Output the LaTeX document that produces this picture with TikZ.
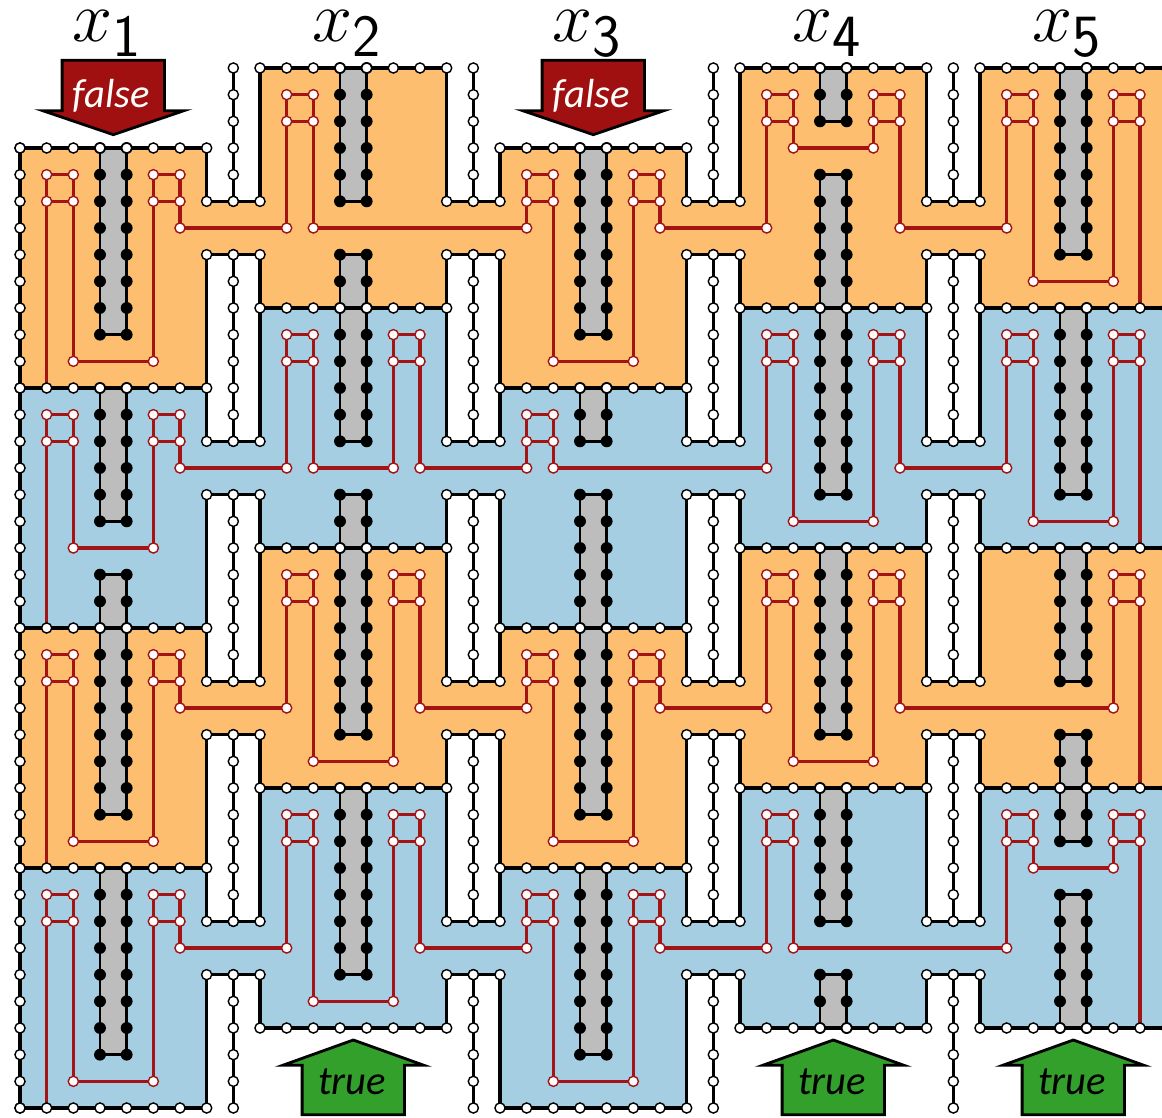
\documentclass[tikz,border=0pt]{standalone}
\usepackage{amsmath,amssymb}
\usepackage[no-math]{fontspec}
\newfontfamily\arrowfont{Carlito}
\definecolor{orangepanel}{HTML}{FDBF6F}
\definecolor{bluepanel}{HTML}{A6CEE3}
\definecolor{greytube}{HTML}{BDBDBD}
\definecolor{redwire}{HTML}{A31515}
\definecolor{redarrow}{HTML}{A01010}
\definecolor{greenarrow}{HTML}{33A02C}
\begin{document}
\begin{tikzpicture}[x=0.6cm,y=-0.6cm,
    edge/.style = {draw, line width=2.1pt},
    thinedge/.style = {draw, line width=1.6pt},
    tube/.style = {draw, fill=greytube, line width=1.8pt},
    wire/.style = {draw=redwire, line width=2pt},
    wdot/.style = {draw, fill=white, circle, inner sep=0pt, minimum size=6.5pt, line width=.9pt},
    rdot/.style = {draw=redwire, fill=white, circle, inner sep=0pt, minimum size=6.5pt, line width=.9pt},
    bdot/.style = {fill=black, circle, inner sep=0pt, minimum size=7.6pt},
    varlabel/.style = {anchor=base, inner sep=0pt, font=\Huge, scale=1.85},
    fixarrow/.style = {draw, line width=1.8pt, miter limit=20},
    fixlabel/.style = {anchor=base, font=\fontsize{26}{26}\selectfont\arrowfont\itshape}]
    \clip (-.75,-2.55) rectangle (42.825,39.375);

    % grid of named points
    \foreach \i in {0,...,44} \foreach \j in {0,...,39} \coordinate (g\i-\j) at (\i,\j);

    % panels
    \foreach \a/\b/\t in {0/7/3, 18/25/3, 9/16/0, 27/34/0, 36/44/0} {
        \pgfmathtruncatemacro{\ta}{\t+9}
        \pgfmathtruncatemacro{\tb}{\t+18}
        \pgfmathtruncatemacro{\tc}{\t+27}
        \pgfmathtruncatemacro{\td}{\t+36}
        \fill[orangepanel] (g\a-\t) rectangle (g\b-\ta);
        \fill[bluepanel] (g\a-\ta) rectangle (g\b-\tb);
        \fill[orangepanel] (g\a-\tb) rectangle (g\b-\tc);
        \fill[bluepanel] (g\a-\tc) rectangle (g\b-\td);
    }
    % links between the panels
    \foreach \a/\b in {6/10, 15/19, 24/28, 33/37} {
        \fill[orangepanel] (g\a-5) rectangle (g\b-7);
        \fill[bluepanel] (g\a-14) rectangle (g\b-16);
        \fill[orangepanel] (g\a-23) rectangle (g\b-25);
        \fill[bluepanel] (g\a-32) rectangle (g\b-34);
    }

    % tubes
    \foreach \s/\u/\a/\b in {3/4/3/10, 3/4/12/17, 3/4/19/28, 3/4/30/37,
        12/13/0/5, 12/13/7/14, 12/13/16/25, 12/13/27/34,
        21/22/3/10, 21/22/12/14, 21/22/16/28, 21/22/30/37,
        30/31/0/2, 30/31/4/16, 30/31/18/25, 30/31/27/32, 30/31/34/36,
        39/40/0/7, 39/40/9/16, 39/40/18/23, 39/40/25/29, 39/40/31/36} {
        \draw[tube] (g\s-\a) rectangle (g\u-\b);
        \foreach \j in {\a,...,\b} {
            \node[bdot] (b\s-\j) at (g\s-\j) {};
            \node[bdot] (b\u-\j) at (g\u-\j) {};
        }
    }

    % red squares
    \foreach \i/\j in {1/4, 5/4, 1/13, 5/13, 1/22, 5/22, 1/31, 5/31,
        10/1, 10/10, 14/10, 10/19, 14/19, 10/28, 14/28,
        19/4, 23/4, 19/13, 19/22, 23/22, 19/31, 23/31,
        28/1, 32/1, 28/10, 32/10, 28/19, 32/19, 28/28,
        37/1, 41/1, 37/10, 41/10, 41/19, 37/28, 41/28} {
        \pgfmathtruncatemacro{\k}{\i+1}
        \pgfmathtruncatemacro{\m}{\j+1}
        \draw[wire] (g\i-\j) rectangle (g\k-\m);
    }
    % red wires that stop on a boundary
    \foreach \i/\a/\b in {1/5/12, 1/14/21, 1/23/30, 1/32/39, 42/2/9, 42/11/18, 42/20/27, 42/29/36}
        \draw[wire] (g\i-\a) -- (g\i-\b);
    % red wires: down, across, up
    \foreach \a/\b/\c/\d/\e in {2/5/11/5/5, 6/5/6/10/2, 11/2/6/19/5, 20/5/11/23/5,
        24/5/6/28/2, 29/2/3/32/2, 33/2/6/37/2, 38/2/8/41/2,
        2/14/18/5/14, 6/14/15/10/11, 11/11/15/14/11, 15/11/15/19/14,
        20/14/15/28/11, 29/11/17/32/11, 33/11/15/37/11, 38/11/17/41/11,
        2/23/29/5/23, 6/23/24/10/20, 11/20/26/14/20, 15/20/24/19/23,
        20/23/29/23/23, 24/23/24/28/20, 29/20/26/32/20, 33/20/24/41/20,
        2/32/38/5/32, 6/32/33/10/29, 11/29/35/14/29, 15/29/33/19/32,
        20/32/38/23/32, 24/32/33/28/29, 29/29/33/37/29, 38/29/30/41/29} {
        \draw[wire] (g\a-\b) -- (g\a-\c) -- (g\d-\c) -- (g\d-\e);
        \node[rdot] (r\a-\c) at (g\a-\c) {};
        \node[rdot] (r\d-\c) at (g\d-\c) {};
    }
    \foreach \i/\j in {1/4, 5/4, 1/13, 5/13, 1/22, 5/22, 1/31, 5/31,
        10/1, 10/10, 14/10, 10/19, 14/19, 10/28, 14/28,
        19/4, 23/4, 19/13, 19/22, 23/22, 19/31, 23/31,
        28/1, 32/1, 28/10, 32/10, 28/19, 32/19, 28/28,
        37/1, 41/1, 37/10, 41/10, 41/19, 37/28, 41/28} {
        \pgfmathtruncatemacro{\k}{\i+1}
        \pgfmathtruncatemacro{\m}{\j+1}
        \node[rdot] (r\i-\j) at (g\i-\j) {};
        \node[rdot] (r\k-\j) at (g\k-\j) {};
        \node[rdot] (r\i-\m) at (g\i-\m) {};
        \node[rdot] (r\k-\m) at (g\k-\m) {};
    }

    % boundaries of the panels, at the gaps
    \foreach \e/\t/\b in {7/3/39, 9/0/36, 16/0/36, 18/3/39, 25/3/39, 27/0/36, 34/0/36, 36/0/36} {
        \draw[edge] (g\e-\t) -- (g\e-5);
        \draw[edge] (g\e-7) -- (g\e-14);
        \draw[edge] (g\e-16) -- (g\e-23);
        \draw[edge] (g\e-25) -- (g\e-32);
        \draw[edge] (g\e-34) -- (g\e-\b);
    }
    % the gaps: short lines across and the white column in the middle
    \foreach \a/\m/\b in {7/8/9, 16/17/18, 25/26/27, 34/35/36} {
        \foreach \t/\u in {0/5, 7/14, 16/23, 25/32, 34/39} {
            \draw[thinedge] (g\m-\t) -- (g\m-\u);
            \foreach \j in {\t,...,\u} \node[wdot] (w\m-\j) at (g\m-\j) {};
        }
        \foreach \j in {5,7,14,16,23,25,32,34} {
            \draw[thinedge] (g\a-\j) -- (g\b-\j);
            \node[wdot] (w\a-\j) at (g\a-\j) {};
            \node[wdot] (w\m-\j) at (g\m-\j) {};
            \node[wdot] (w\b-\j) at (g\b-\j) {};
        }
    }
    % left border
    \draw[edge] (g0-3) -- (g0-39);
    \foreach \j in {3,...,39} \node[wdot] (w0-\j) at (g0-\j) {};
    % levels
    \foreach \a/\b/\t in {0/7/3, 18/25/3, 9/16/0, 27/34/0, 36/44/0} {
        \foreach \k in {0,9,18,27,36} {
            \pgfmathtruncatemacro{\l}{\t+\k}
            \draw[edge] (g\a-\l) -- (g\b-\l);
            \foreach \i in {\a,...,\b} \node[wdot] (w\i-\l) at (g\i-\l) {};
        }
    }

    % arrows above and below
    \foreach \c/\n in {3.5/1,21.5/3} {
        \draw[fixarrow, fill=redarrow] (\c-1.92,-.29) -- (\c+1.92,-.29) -- (\c+1.92,1.6) -- (\c+2.65,1.6)
            -- (\c,2.5) -- (\c-2.65,1.6) -- (\c-1.92,1.6) -- cycle;
        \node[fixlabel, text=white] (f\n) at (\c-.08,1.5) {false};
    }
    \foreach \c/\n in {12.5/2,30.5/4,39.5/5} {
        \draw[fixarrow, fill=greenarrow] (\c-1.92,39.25) -- (\c+1.92,39.25) -- (\c+1.92,37.4) -- (\c+2.65,37.4)
            -- (\c,36.45) -- (\c-2.65,37.4) -- (\c-1.92,37.4) -- cycle;
        \node[fixlabel] (t\n) at (\c-.05,38.5) {true};
    }
    % variable names
    \foreach \s/\n in {3/1,12/2,21/3,30/4,39/5}
        \node[varlabel] (x\n) at (\s+.28,-.98) {$x_{\mathsf{\n}}$};
\end{tikzpicture}
\end{document}
